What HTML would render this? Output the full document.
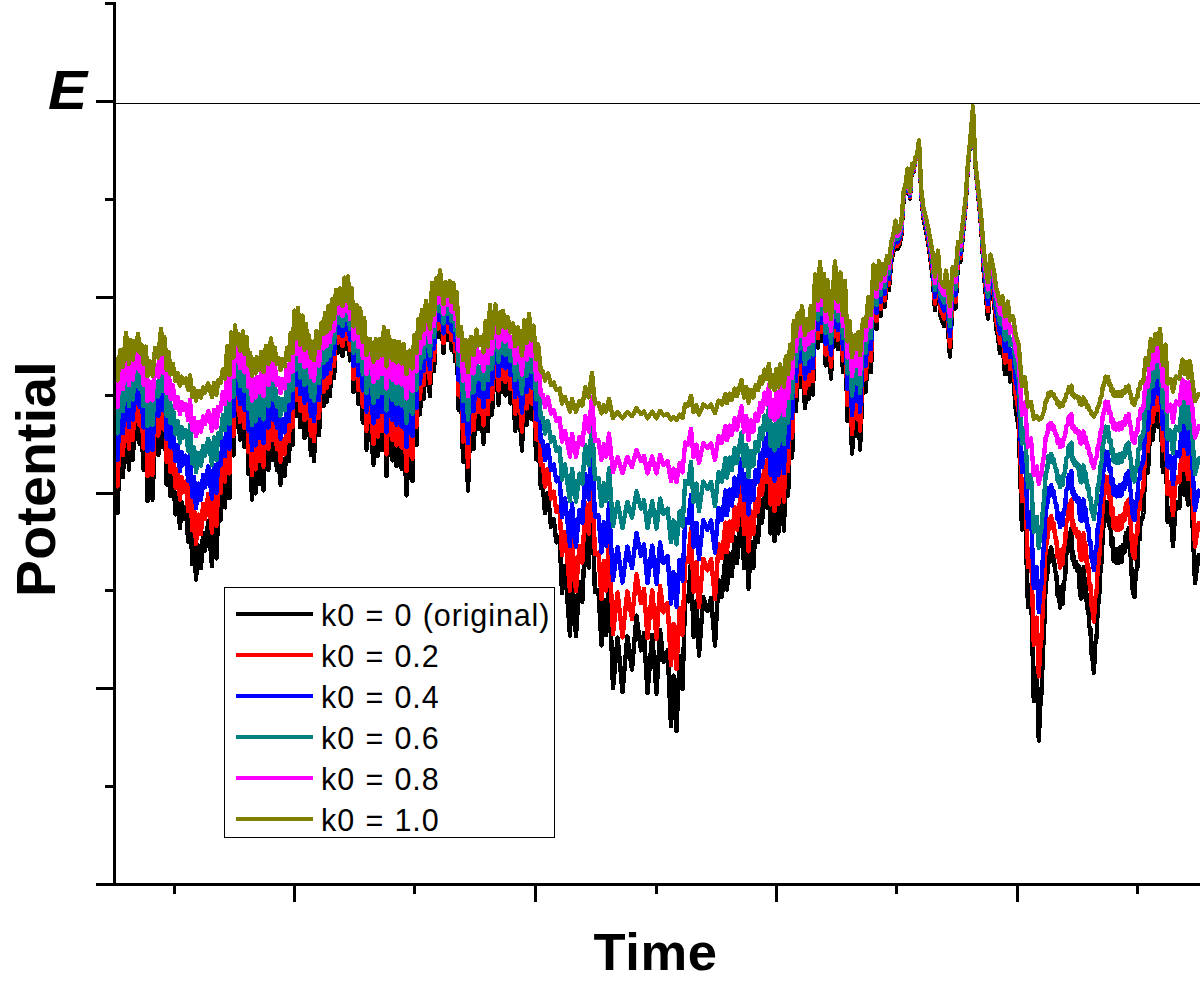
<!DOCTYPE html>
<html><head><meta charset="utf-8"><title>Potential vs Time</title>
<style>
html,body{margin:0;padding:0;background:#fff}
body{width:1200px;height:985px;position:relative;overflow:hidden;font-family:"Liberation Sans",sans-serif;color:#000}
.pl{position:absolute;left:0;top:0}
.k{position:absolute;background:#000}
.lt{position:absolute;left:321px;font-size:30.5px;line-height:40px;white-space:nowrap;letter-spacing:0.9px;word-spacing:1px}
.E{position:absolute;left:47.5px;top:59.5px;font-size:56px;transform:scaleX(1.05);transform-origin:0 0;font-weight:bold;font-style:italic;line-height:60px}
.T{position:absolute;left:593.6px;top:921.5px;font-size:52.5px;letter-spacing:0.55px;font-weight:bold;line-height:60px;white-space:nowrap}
.P{position:absolute;left:36.1px;top:479.3px;font-size:55.5px;letter-spacing:0.17px;font-weight:bold;line-height:60px;white-space:nowrap;transform:translate(-50%,-50%) rotate(-90deg);transform-origin:50% 50%}
</style></head><body>
<svg class="pl" width="1200" height="985" viewBox="0 0 1200 985"><g fill="none" stroke-width="4.4" stroke-linejoin="round" stroke-linecap="butt" shape-rendering="crispEdges">
<path d="M115.0 493.2 L116.2 459.6 L117.5 513.0 L120.2 438.8 L123.0 477.2 L126.0 404.6 L129.0 469.7 L130.5 418.3 L132.9 459.8 L134.5 419.8 L136.4 438.7 L138.0 405.7 L139.7 443.9 L141.5 427.3 L143.6 469.7 L145.8 431.4 L147.5 501.3 L149.9 463.5 L152.5 499.7 L155.1 433.8 L158.3 455.2 L161.0 396.2 L163.0 447.2 L164.6 413.0 L166.7 484.7 L168.8 443.2 L170.5 496.3 L172.9 470.2 L175.5 514.4 L177.5 492.7 L180.0 528.0 L181.7 502.2 L183.7 519.1 L185.7 507.2 L188.2 541.6 L190.0 499.1 L192.2 564.0 L194.1 535.9 L196.0 579.7 L198.3 545.3 L201.0 568.0 L203.1 533.2 L205.0 550.5 L208.2 521.5 L212.0 566.3 L214.0 519.4 L216.4 558.4 L218.3 512.2 L220.5 520.5 L222.9 483.3 L225.1 507.4 L227.3 430.0 L229.5 498.0 L231.2 403.2 L233.4 455.4 L235.0 390.2 L236.7 426.7 L238.3 406.1 L240.0 439.7 L243.0 401.7 L244.5 446.9 L246.6 412.1 L248.5 474.0 L250.1 445.0 L252.0 499.7 L253.8 457.7 L255.5 493.4 L257.0 454.4 L259.3 484.0 L261.1 443.0 L263.5 490.5 L265.9 429.8 L268.4 470.0 L271.0 414.9 L273.0 459.8 L274.7 433.5 L276.9 470.2 L278.6 457.2 L280.5 484.7 L282.5 459.0 L284.7 476.2 L287.2 433.6 L289.0 461.3 L290.7 404.6 L292.7 445.2 L294.4 364.1 L296.1 415.8 L298.0 359.3 L300.2 427.3 L302.5 372.9 L304.5 438.0 L306.0 387.8 L307.5 434.8 L309.0 409.1 L310.9 455.1 L312.5 423.6 L314.0 461.3 L316.4 400.3 L319.0 435.2 L321.4 385.2 L323.5 406.3 L325.0 368.0 L326.6 402.0 L328.4 356.4 L330.0 396.3 L332.0 345.6 L334.1 378.3 L336.0 330.1 L338.2 352.5 L340.1 327.8 L342.5 356.3 L344.6 311.8 L346.1 348.5 L348.0 310.1 L349.9 360.5 L351.8 327.6 L353.5 392.2 L356.5 354.8 L358.3 404.0 L360.2 360.7 L362.8 422.6 L364.2 377.1 L366.5 449.7 L370.0 415.5 L373.5 464.7 L375.8 416.3 L377.7 456.3 L379.7 416.0 L382.0 450.3 L384.0 393.6 L386.5 476.3 L388.1 400.5 L389.4 454.7 L391.0 418.8 L392.6 460.4 L394.4 419.8 L396.5 466.3 L399.1 421.7 L401.7 468.7 L403.8 426.7 L406.5 495.5 L409.4 440.2 L412.5 481.3 L414.2 409.3 L416.5 445.2 L418.4 378.5 L420.1 413.9 L421.9 362.8 L423.8 398.6 L426.0 347.5 L430.0 396.3 L432.1 319.6 L434.1 371.3 L436.2 312.3 L438.2 337.1 L440.0 301.1 L443.5 353.0 L445.5 318.7 L448.0 340.4 L450.0 317.1 L451.5 349.7 L453.4 320.4 L455.0 361.4 L456.8 334.1 L458.5 409.7 L461.1 393.2 L463.1 461.8 L465.6 418.3 L468.0 490.5 L470.8 411.7 L473.6 448.9 L476.5 397.9 L478.8 429.0 L481.1 411.8 L483.5 443.8 L485.5 382.9 L488.0 431.2 L490.0 354.5 L492.0 414.7 L495.5 353.9 L498.5 404.7 L500.1 367.1 L501.5 392.2 L503.0 364.6 L505.4 395.4 L507.9 375.5 L510.4 403.5 L513.2 387.1 L515.2 431.0 L518.0 393.9 L522.0 450.5 L524.3 381.3 L526.7 424.8 L529.0 369.9 L531.5 419.1 L533.5 390.8 L536.2 459.5 L538.2 427.1 L540.8 488.3 L543.0 488.2 L545.0 513.0 L548.0 492.9 L551.0 526.8 L553.7 519.0 L556.4 542.4 L559.6 536.8 L562.0 593.1 L565.0 566.0 L570.0 635.5 L572.0 573.3 L576.0 636.2 L579.4 582.2 L582.3 601.8 L585.3 532.1 L588.8 567.6 L592.0 492.1 L594.9 591.8 L598.4 590.0 L601.5 645.5 L603.8 599.7 L606.2 635.3 L609.0 572.7 L613.0 688.0 L617.6 637.5 L622.5 692.2 L627.3 636.3 L632.0 669.7 L636.5 615.7 L641.0 650.4 L644.0 633.2 L647.5 693.0 L652.2 634.9 L656.5 693.8 L660.1 630.1 L663.5 661.7 L667.6 650.4 L671.0 726.3 L673.5 675.7 L676.5 731.3 L679.6 656.4 L682.5 689.1 L685.2 595.6 L688.2 601.3 L691.0 561.4 L693.6 637.1 L696.5 601.1 L699.0 655.5 L703.3 597.2 L707.5 611.0 L711.1 597.7 L715.0 645.5 L718.6 579.6 L721.9 596.8 L725.5 554.7 L727.0 589.7 L729.4 553.7 L731.8 576.2 L734.7 537.0 L737.0 563.0 L741.5 511.4 L744.1 568.4 L746.2 531.9 L748.5 588.8 L751.0 541.7 L753.3 568.0 L755.5 527.0 L758.0 542.2 L760.3 504.1 L762.1 522.6 L764.6 484.1 L766.6 507.6 L769.0 469.9 L770.6 533.6 L772.6 498.4 L774.5 541.3 L776.6 481.7 L778.3 533.4 L780.0 471.3 L784.0 530.5 L785.8 452.5 L788.1 495.6 L790.1 427.5 L792.2 457.5 L793.8 381.8 L795.9 411.0 L797.8 369.1 L800.0 386.9 L802.0 356.9 L805.0 408.0 L807.2 378.2 L808.9 398.6 L810.8 356.9 L813.0 394.7 L815.1 306.8 L817.9 347.7 L820.0 288.5 L822.0 341.0 L824.0 305.8 L825.7 365.4 L827.5 315.9 L831.0 378.6 L835.0 288.2 L837.8 349.3 L840.5 304.1 L842.9 371.9 L845.0 316.4 L847.4 421.2 L849.6 382.1 L852.0 453.7 L855.0 409.0 L856.8 435.9 L858.6 402.2 L860.0 449.7 L863.0 379.5 L865.7 392.2 L868.4 341.9 L871.0 372.0 L873.5 292.7 L876.4 329.3 L879.0 288.0 L880.5 316.3 L882.7 292.0 L884.7 306.9 L887.0 281.0 L888.9 290.3 L891.2 262.3 L893.4 251.8 L895.5 233.9 L897.4 249.2 L899.4 245.0 L901.4 235.1 L903.7 197.7 L905.6 189.9 L907.5 172.4 L910.0 198.7 L911.9 167.1 L913.6 171.6 L915.4 159.9 L916.9 159.3 L919.0 141.5 L921.2 195.5 L923.5 218.6 L925.9 230.2 L928.3 243.7 L930.7 261.5 L932.7 277.6 L935.0 310.3 L938.0 273.3 L940.3 316.0 L942.1 320.7 L944.2 326.2 L946.0 301.4 L950.0 356.7 L952.6 296.3 L955.5 308.6 L958.0 261.7 L960.4 261.9 L962.8 236.7 L965.8 204.0 L967.9 166.3 L970.3 139.8 L973.0 106.3 L975.2 163.2 L977.5 187.8 L979.7 210.9 L981.4 231.8 L983.7 271.6 L985.6 293.0 L988.0 318.6 L990.5 278.7 L992.6 292.9 L994.1 303.2 L996.3 328.7 L997.8 335.3 L1000.0 353.0 L1002.4 340.3 L1005.0 374.3 L1007.8 349.2 L1010.1 381.5 L1013.0 373.9 L1015.8 409.7 L1018.8 429.0 L1022.0 529.7 L1024.9 503.9 L1028.0 607.4 L1031.0 585.1 L1033.8 701.3 L1036.8 668.0 L1038.8 740.7 L1040.1 707.7 L1041.6 692.0 L1042.7 657.0 L1044.2 627.8 L1045.7 581.8 L1047.1 578.0 L1048.5 551.2 L1049.9 561.9 L1051.2 547.3 L1052.5 557.9 L1053.7 555.7 L1055.1 571.6 L1056.2 573.0 L1057.6 595.9 L1058.8 586.9 L1060.0 607.7 L1061.2 599.6 L1062.6 603.8 L1063.8 582.0 L1065.0 579.6 L1066.3 554.8 L1067.6 552.0 L1068.8 533.0 L1069.9 534.0 L1071.4 528.2 L1072.7 560.1 L1073.8 556.5 L1074.8 567.2 L1076.1 562.0 L1077.4 571.2 L1078.6 565.9 L1080.0 595.3 L1081.4 598.6 L1082.5 594.4 L1083.5 567.3 L1084.5 579.1 L1085.8 581.7 L1087.0 607.9 L1088.2 604.9 L1089.4 627.3 L1090.4 628.2 L1091.5 653.2 L1092.5 658.6 L1093.9 672.8 L1095.2 644.1 L1096.6 637.2 L1097.6 609.7 L1099.1 598.1 L1100.5 569.5 L1101.8 559.8 L1102.9 527.0 L1104.1 526.8 L1105.4 501.7 L1106.9 509.8 L1107.9 502.5 L1109.2 525.9 L1110.3 522.8 L1111.6 545.7 L1112.6 538.3 L1113.7 560.7 L1115.1 549.1 L1116.4 563.2 L1117.6 549.7 L1118.9 562.9 L1120.1 547.3 L1121.6 561.8 L1123.0 545.2 L1124.4 552.5 L1125.9 532.8 L1127.3 543.9 L1128.6 528.2 L1129.6 547.6 L1131.0 559.3 L1132.2 587.5 L1133.4 593.2 L1134.5 597.0 L1135.8 571.1 L1137.3 568.2 L1138.4 538.3 L1139.7 539.3 L1140.7 517.8 L1142.2 519.7 L1143.5 512.5 L1145.7 456.2 L1148.0 472.7 L1150.8 415.9 L1152.8 440.0 L1155.3 406.2 L1157.9 426.7 L1160.0 397.1 L1162.9 472.0 L1165.4 427.7 L1167.6 521.9 L1170.5 508.1 L1173.0 546.2 L1175.9 501.8 L1179.3 508.0 L1182.5 459.6 L1184.1 494.5 L1186.1 465.1 L1187.9 504.6 L1190.0 463.5 L1195.0 583.0 L1198.7 555.2 L1202.0 561.7" stroke="#000000"/>
<path d="M115.0 469.2 L116.2 439.6 L117.5 486.5 L120.2 421.0 L123.0 455.1 L126.0 390.3 L129.0 448.5 L130.5 402.6 L132.9 439.8 L134.5 404.0 L136.4 421.0 L138.0 391.3 L139.7 425.6 L141.5 410.7 L143.6 448.5 L145.8 414.4 L147.5 476.3 L149.9 443.0 L152.5 474.9 L155.1 416.5 L158.3 435.7 L161.0 382.7 L163.0 428.5 L164.6 397.9 L166.7 461.8 L168.8 424.9 L170.5 472.0 L172.9 448.9 L175.5 487.8 L177.5 468.8 L180.0 499.5 L181.7 477.1 L183.7 491.8 L185.7 481.5 L188.2 511.3 L190.0 474.4 L192.2 530.5 L194.1 506.4 L196.0 543.8 L198.3 514.5 L201.0 533.9 L203.1 504.1 L205.0 518.9 L208.2 493.9 L212.0 532.5 L214.0 492.1 L216.4 525.7 L218.3 485.8 L220.5 493.0 L222.9 460.5 L225.1 481.6 L227.3 413.2 L229.5 473.4 L231.2 389.0 L233.4 435.9 L235.0 377.2 L236.7 410.2 L238.3 391.6 L240.0 421.8 L243.0 387.7 L244.5 428.3 L246.6 397.1 L248.5 452.3 L250.1 426.6 L252.0 474.9 L253.8 437.9 L255.5 469.4 L257.0 434.9 L259.3 461.2 L261.1 424.8 L263.5 466.8 L265.9 413.0 L268.4 448.8 L271.0 399.6 L273.0 439.8 L274.7 416.3 L276.9 449.0 L278.6 437.4 L280.5 461.7 L282.5 439.0 L284.7 454.3 L287.2 416.4 L289.0 441.1 L290.7 390.3 L292.7 426.8 L294.4 353.4 L296.1 400.4 L298.0 348.9 L300.2 410.8 L302.5 361.4 L304.5 420.3 L306.0 375.0 L307.5 417.5 L309.0 394.4 L310.9 435.5 L312.5 407.5 L314.0 441.1 L316.4 386.4 L319.0 417.8 L321.4 372.7 L323.5 391.9 L325.0 357.0 L326.6 388.0 L328.4 346.4 L330.0 382.8 L332.0 336.4 L334.1 366.3 L336.0 322.0 L338.2 342.7 L340.1 319.9 L342.5 346.3 L344.6 305.0 L346.1 339.0 L348.0 303.4 L349.9 350.1 L351.8 319.7 L353.5 379.0 L356.5 344.8 L358.3 389.8 L360.2 350.3 L362.8 406.6 L364.2 365.3 L366.5 430.7 L370.0 400.1 L373.5 444.1 L375.8 400.8 L377.7 436.6 L379.7 400.5 L382.0 431.3 L384.0 380.4 L386.5 454.4 L388.1 386.6 L389.4 435.2 L391.0 403.1 L392.6 440.3 L394.4 404.0 L396.5 445.5 L399.1 405.8 L401.7 447.6 L403.8 410.2 L406.5 471.2 L409.4 422.3 L412.5 458.8 L414.2 394.6 L416.5 426.8 L418.4 366.6 L420.1 398.7 L421.9 352.2 L423.8 384.9 L426.0 338.1 L430.0 382.8 L432.1 312.3 L434.1 360.0 L436.2 305.4 L438.2 328.5 L440.0 294.9 L443.5 343.2 L445.5 311.4 L448.0 331.5 L450.0 309.9 L451.5 340.1 L453.4 313.0 L455.0 350.9 L456.8 325.7 L458.5 394.9 L461.1 380.0 L463.1 441.5 L465.6 402.6 L468.0 466.8 L470.8 396.7 L473.6 430.1 L476.5 384.2 L478.8 412.3 L481.1 396.8 L483.5 425.5 L485.5 370.6 L488.0 414.3 L490.0 344.6 L492.0 399.4 L495.5 344.0 L498.5 390.4 L500.1 356.2 L501.5 379.1 L503.0 353.9 L505.4 381.9 L507.9 363.8 L510.4 389.3 L513.2 374.4 L515.2 414.0 L518.0 380.5 L522.0 431.5 L524.3 369.1 L526.7 408.5 L529.0 358.7 L531.5 403.4 L533.5 377.8 L536.2 439.5 L538.2 410.6 L540.8 464.9 L543.0 464.8 L545.0 486.5 L548.0 469.0 L551.0 498.5 L553.7 491.7 L556.4 512.0 L559.6 507.2 L562.0 555.3 L565.0 532.2 L570.0 590.8 L572.0 538.4 L576.0 591.3 L579.4 546.0 L582.3 562.6 L585.3 503.1 L588.8 533.6 L592.0 468.2 L594.9 554.2 L598.4 552.6 L601.5 599.1 L603.8 560.8 L606.2 590.6 L609.0 538.0 L613.0 634.0 L617.6 592.4 L622.5 637.4 L627.3 591.4 L632.0 619.0 L636.5 574.3 L641.0 603.1 L644.0 588.8 L647.5 638.1 L652.2 590.3 L656.5 638.7 L660.1 586.2 L663.5 612.4 L667.6 603.2 L671.0 665.0 L673.5 623.9 L676.5 669.0 L679.6 608.1 L682.5 634.9 L685.2 557.3 L688.2 562.1 L691.0 528.3 L693.6 592.1 L696.5 561.9 L699.0 607.3 L703.3 558.7 L707.5 570.3 L711.1 559.1 L715.0 599.1 L718.6 543.8 L721.9 558.3 L725.5 522.6 L727.0 552.3 L729.4 521.7 L731.8 540.9 L734.7 507.3 L737.0 529.6 L741.5 485.1 L744.1 534.3 L746.2 502.9 L748.5 551.6 L751.0 511.4 L753.3 533.9 L755.5 498.7 L758.0 511.8 L760.3 478.7 L762.1 494.8 L764.6 461.2 L766.6 481.8 L769.0 448.7 L770.6 504.4 L772.6 473.7 L774.5 511.0 L776.6 459.1 L778.3 504.2 L780.0 450.0 L784.0 501.7 L785.8 433.3 L788.1 471.3 L790.1 410.9 L792.2 437.7 L793.8 369.6 L795.9 396.1 L797.8 357.9 L800.0 374.2 L802.0 346.7 L805.0 393.4 L807.2 366.3 L808.9 384.9 L810.8 346.8 L813.0 381.3 L815.1 300.3 L817.9 338.3 L820.0 283.2 L822.0 332.1 L824.0 299.4 L825.7 354.6 L827.5 308.8 L831.0 366.7 L835.0 282.8 L837.8 339.8 L840.5 297.8 L842.9 360.5 L845.0 309.2 L847.4 405.2 L849.6 369.9 L852.0 434.3 L855.0 394.2 L856.8 418.5 L858.6 388.1 L860.0 430.7 L863.0 367.4 L865.7 379.0 L868.4 333.0 L871.0 360.7 L873.5 287.0 L876.4 321.3 L879.0 282.7 L880.5 309.2 L882.7 286.4 L884.7 300.4 L887.0 276.1 L888.9 284.8 L891.2 258.3 L893.4 248.3 L895.5 231.2 L897.4 245.8 L899.4 241.9 L901.4 232.4 L903.7 196.3 L905.6 188.7 L907.5 171.6 L910.0 197.2 L911.9 166.5 L913.6 170.9 L915.4 159.4 L916.9 158.8 L919.0 141.3 L921.2 194.2 L923.5 216.6 L925.9 227.7 L928.3 240.6 L930.7 257.6 L932.7 272.8 L935.0 303.6 L938.0 268.7 L940.3 308.9 L942.1 313.3 L944.2 318.4 L946.0 295.2 L950.0 346.6 L952.6 290.5 L955.5 302.0 L958.0 257.8 L960.4 258.0 L962.8 233.9 L965.8 202.5 L967.9 165.7 L970.3 139.6 L973.0 106.3 L975.2 162.6 L977.5 186.7 L979.7 209.1 L981.4 229.2 L983.7 267.1 L985.6 287.3 L988.0 311.3 L990.5 273.8 L992.6 287.2 L994.1 296.9 L996.3 320.7 L997.8 326.8 L1000.0 343.2 L1002.4 331.5 L1005.0 362.7 L1007.8 339.6 L1010.1 369.4 L1013.0 362.4 L1015.8 394.9 L1018.8 412.2 L1022.0 501.0 L1024.9 478.5 L1028.0 567.2 L1031.0 548.4 L1033.8 644.8 L1036.8 617.6 L1038.8 676.5 L1040.1 650.0 L1041.6 637.3 L1042.7 608.6 L1044.2 584.3 L1045.7 545.6 L1047.1 542.4 L1048.5 519.5 L1049.9 528.7 L1051.2 516.2 L1052.5 525.3 L1053.7 523.4 L1055.1 537.0 L1056.2 538.2 L1057.6 557.6 L1058.8 549.9 L1060.0 567.5 L1061.2 560.7 L1062.6 564.3 L1063.8 545.8 L1065.0 543.8 L1066.3 522.6 L1067.6 520.2 L1068.8 503.8 L1069.9 504.8 L1071.4 499.7 L1072.7 527.1 L1073.8 524.1 L1074.8 533.2 L1076.1 528.8 L1077.4 536.7 L1078.6 532.1 L1080.0 557.1 L1081.4 559.9 L1082.5 556.3 L1083.5 533.3 L1084.5 543.4 L1085.8 545.6 L1087.0 567.7 L1088.2 565.1 L1089.4 583.9 L1090.4 584.7 L1091.5 605.5 L1092.5 609.9 L1093.9 621.5 L1095.2 597.9 L1096.6 592.2 L1097.6 569.2 L1099.1 559.5 L1100.5 535.2 L1101.8 526.9 L1102.9 498.7 L1104.1 498.5 L1105.4 476.7 L1106.9 483.7 L1107.9 477.3 L1109.2 497.7 L1110.3 495.0 L1111.6 514.8 L1112.6 508.4 L1113.7 527.7 L1115.1 517.7 L1116.4 529.8 L1117.6 518.2 L1118.9 529.6 L1120.1 516.2 L1121.6 528.6 L1123.0 514.4 L1124.4 520.6 L1125.9 503.6 L1127.3 513.3 L1128.6 499.7 L1129.6 516.4 L1131.0 526.5 L1132.2 550.5 L1133.4 555.3 L1134.5 558.5 L1135.8 536.5 L1137.3 534.0 L1138.4 508.4 L1139.7 509.3 L1140.7 490.7 L1142.2 492.3 L1143.5 486.1 L1145.7 436.6 L1148.0 451.2 L1150.8 400.5 L1152.8 422.1 L1155.3 391.7 L1157.9 410.2 L1160.0 383.5 L1162.9 450.5 L1165.4 411.1 L1167.6 494.3 L1170.5 482.3 L1173.0 515.2 L1175.9 476.7 L1179.3 482.2 L1182.5 439.6 L1184.1 470.4 L1186.1 444.5 L1187.9 479.2 L1190.0 443.0 L1195.0 546.7 L1198.7 522.9 L1202.0 528.5" stroke="#ff0000"/>
<path d="M115.0 445.2 L116.2 419.5 L117.5 460.0 L120.2 403.3 L123.0 433.1 L126.0 376.0 L129.0 427.3 L130.5 387.0 L132.9 419.7 L134.5 388.2 L136.4 403.2 L138.0 376.9 L139.7 407.3 L141.5 394.2 L143.6 427.4 L145.8 397.4 L147.5 451.3 L149.9 422.5 L152.5 450.1 L155.1 399.3 L158.3 416.2 L161.0 369.2 L163.0 409.9 L164.6 382.8 L166.7 438.8 L168.8 406.7 L170.5 447.6 L172.9 427.7 L175.5 461.1 L177.5 444.9 L180.0 471.1 L181.7 452.0 L183.7 464.5 L185.7 455.7 L188.2 480.9 L190.0 449.7 L192.2 497.0 L194.1 476.9 L196.0 508.0 L198.3 483.6 L201.0 499.8 L203.1 474.9 L205.0 487.4 L208.2 466.3 L212.0 498.6 L214.0 464.7 L216.4 493.0 L218.3 459.4 L220.5 465.6 L222.9 437.8 L225.1 455.9 L227.3 396.4 L229.5 448.8 L231.2 374.8 L233.4 416.3 L235.0 364.2 L236.7 393.7 L238.3 377.2 L240.0 404.0 L243.0 373.7 L244.5 409.7 L246.6 382.0 L248.5 430.7 L250.1 408.1 L252.0 450.1 L253.8 418.1 L255.5 445.4 L257.0 415.5 L259.3 438.3 L261.1 406.6 L263.5 443.2 L265.9 396.2 L268.4 427.6 L271.0 384.3 L273.0 419.7 L274.7 399.1 L276.9 427.7 L278.6 417.7 L280.5 438.8 L282.5 419.1 L284.7 432.3 L287.2 399.2 L289.0 420.9 L290.7 376.0 L292.7 408.3 L294.4 342.6 L296.1 385.0 L298.0 338.6 L300.2 394.2 L302.5 350.0 L304.5 402.7 L306.0 362.3 L307.5 400.1 L309.0 379.6 L310.9 416.0 L312.5 391.3 L314.0 420.9 L316.4 372.5 L319.0 400.4 L321.4 360.2 L323.5 377.4 L325.0 346.0 L326.6 373.9 L328.4 336.3 L330.0 369.3 L332.0 327.1 L334.1 354.4 L336.0 313.9 L338.2 332.9 L340.1 312.0 L342.5 336.2 L344.6 298.1 L346.1 329.5 L348.0 296.7 L349.9 339.7 L351.8 311.8 L353.5 365.9 L356.5 334.9 L358.3 375.5 L360.2 339.8 L362.8 390.5 L364.2 353.5 L366.5 411.8 L370.0 384.8 L373.5 423.5 L375.8 385.4 L377.7 417.0 L379.7 385.1 L382.0 412.3 L384.0 367.1 L386.5 432.4 L388.1 372.6 L389.4 415.7 L391.0 387.4 L392.6 420.2 L394.4 388.2 L396.5 424.8 L399.1 389.8 L401.7 426.6 L403.8 393.7 L406.5 447.0 L409.4 404.4 L412.5 436.2 L414.2 379.8 L416.5 408.3 L418.4 354.6 L420.1 383.5 L421.9 341.6 L423.8 371.1 L426.0 328.7 L430.0 369.3 L432.1 304.9 L434.1 348.6 L436.2 298.6 L438.2 319.9 L440.0 288.8 L443.5 333.4 L445.5 304.1 L448.0 322.7 L450.0 302.7 L451.5 330.6 L453.4 305.6 L455.0 340.4 L456.8 317.3 L458.5 380.1 L461.1 366.7 L463.1 421.2 L465.6 387.0 L468.0 443.2 L470.8 381.7 L473.6 411.2 L476.5 370.5 L478.8 395.6 L481.1 381.8 L483.5 407.3 L485.5 358.3 L488.0 397.3 L490.0 334.7 L492.0 384.1 L495.5 334.1 L498.5 376.0 L500.1 345.2 L501.5 365.9 L503.0 343.1 L505.4 368.5 L507.9 352.2 L510.4 375.1 L513.2 361.7 L515.2 397.1 L518.0 367.2 L522.0 412.5 L524.3 356.9 L526.7 392.2 L529.0 347.5 L531.5 387.6 L533.5 364.8 L536.2 419.5 L538.2 394.1 L540.8 441.5 L543.0 441.5 L545.0 460.0 L548.0 445.0 L551.0 470.2 L553.7 464.5 L556.4 481.5 L559.6 477.5 L562.0 517.4 L565.0 498.4 L570.0 546.0 L572.0 503.5 L576.0 546.5 L579.4 509.8 L582.3 523.3 L585.3 474.0 L588.8 499.5 L592.0 444.4 L594.9 516.5 L598.4 515.2 L601.5 552.6 L603.8 521.9 L606.2 545.9 L609.0 503.2 L613.0 580.0 L617.6 547.3 L622.5 582.6 L627.3 546.6 L632.0 568.3 L636.5 532.8 L641.0 555.8 L644.0 544.5 L647.5 583.1 L652.2 545.6 L656.5 583.7 L660.1 542.4 L663.5 563.2 L667.6 555.9 L671.0 603.7 L673.5 572.2 L676.5 606.7 L679.6 559.8 L682.5 580.7 L685.2 519.0 L688.2 523.0 L691.0 495.1 L693.6 547.1 L696.5 522.8 L699.0 559.2 L703.3 520.2 L707.5 529.6 L711.1 520.5 L715.0 552.6 L718.6 508.0 L721.9 519.9 L725.5 490.4 L727.0 515.0 L729.4 489.7 L731.8 505.6 L734.7 477.7 L737.0 496.3 L741.5 458.9 L744.1 500.1 L746.2 473.9 L748.5 514.4 L751.0 481.0 L753.3 499.8 L755.5 470.3 L758.0 481.4 L760.3 453.4 L762.1 467.1 L764.6 438.3 L766.6 456.0 L769.0 427.5 L770.6 475.1 L772.6 449.1 L774.5 480.8 L776.6 436.5 L778.3 475.0 L780.0 428.6 L784.0 472.9 L785.8 414.1 L788.1 447.0 L790.1 394.4 L792.2 417.9 L793.8 357.3 L795.9 381.2 L797.8 346.8 L800.0 361.5 L802.0 336.6 L805.0 378.7 L807.2 354.4 L808.9 371.2 L810.8 336.6 L813.0 367.9 L815.1 293.8 L817.9 328.9 L820.0 277.8 L822.0 323.2 L824.0 292.9 L825.7 343.8 L827.5 301.7 L831.0 354.7 L835.0 277.5 L837.8 330.3 L840.5 291.4 L842.9 349.1 L845.0 302.1 L847.4 389.3 L849.6 357.6 L852.0 414.9 L855.0 379.5 L856.8 401.0 L858.6 374.0 L860.0 411.8 L863.0 355.4 L865.7 365.9 L868.4 324.0 L871.0 349.3 L873.5 281.4 L876.4 313.2 L879.0 277.3 L880.5 302.1 L882.7 280.8 L884.7 293.9 L887.0 271.1 L888.9 279.3 L891.2 254.3 L893.4 244.9 L895.5 228.6 L897.4 242.5 L899.4 238.7 L901.4 229.7 L903.7 194.9 L905.6 187.5 L907.5 170.9 L910.0 195.8 L911.9 165.8 L913.6 170.1 L915.4 158.9 L916.9 158.3 L919.0 141.1 L921.2 192.8 L923.5 214.5 L925.9 225.2 L928.3 237.5 L930.7 253.6 L932.7 268.0 L935.0 296.8 L938.0 264.2 L940.3 301.8 L942.1 305.9 L944.2 310.6 L946.0 289.1 L950.0 336.4 L952.6 284.6 L955.5 295.3 L958.0 253.8 L960.4 254.0 L962.8 231.1 L965.8 200.9 L967.9 165.1 L970.3 139.4 L973.0 106.3 L975.2 162.1 L977.5 185.6 L979.7 207.2 L981.4 226.6 L983.7 262.7 L985.6 281.7 L988.0 304.0 L990.5 269.0 L992.6 281.6 L994.1 290.6 L996.3 312.7 L997.8 318.3 L1000.0 333.4 L1002.4 322.6 L1005.0 351.1 L1007.8 330.1 L1010.1 357.2 L1013.0 350.9 L1015.8 380.1 L1018.8 395.5 L1022.0 472.3 L1024.9 453.2 L1028.0 527.1 L1031.0 511.8 L1033.8 588.3 L1036.8 567.2 L1038.8 612.3 L1040.1 592.3 L1041.6 582.5 L1042.7 560.2 L1044.2 540.9 L1045.7 509.5 L1047.1 506.8 L1048.5 487.9 L1049.9 495.5 L1051.2 485.1 L1052.5 492.6 L1053.7 491.1 L1055.1 502.4 L1056.2 503.3 L1057.6 519.3 L1058.8 513.0 L1060.0 527.4 L1061.2 521.8 L1062.6 524.7 L1063.8 509.7 L1065.0 507.9 L1066.3 490.5 L1067.6 488.5 L1068.8 474.7 L1069.9 475.5 L1071.4 471.2 L1072.7 494.2 L1073.8 491.7 L1074.8 499.2 L1076.1 495.5 L1077.4 502.1 L1078.6 498.3 L1080.0 518.9 L1081.4 521.1 L1082.5 518.2 L1083.5 499.4 L1084.5 507.6 L1085.8 509.4 L1087.0 527.5 L1088.2 525.4 L1089.4 540.6 L1090.4 541.2 L1091.5 557.7 L1092.5 561.2 L1093.9 570.3 L1095.2 551.7 L1096.6 547.2 L1097.6 528.7 L1099.1 520.8 L1100.5 500.9 L1101.8 494.0 L1102.9 470.4 L1104.1 470.2 L1105.4 451.6 L1106.9 457.7 L1107.9 452.2 L1109.2 469.6 L1110.3 467.3 L1111.6 483.9 L1112.6 478.6 L1113.7 494.6 L1115.1 486.3 L1116.4 496.4 L1117.6 486.8 L1118.9 496.2 L1120.1 485.1 L1121.6 495.4 L1123.0 483.6 L1124.4 488.8 L1125.9 474.5 L1127.3 482.6 L1128.6 471.2 L1129.6 485.3 L1131.0 493.6 L1132.2 513.5 L1133.4 517.4 L1134.5 520.0 L1135.8 502.0 L1137.3 499.9 L1138.4 478.6 L1139.7 479.3 L1140.7 463.6 L1142.2 464.9 L1143.5 459.7 L1145.7 416.9 L1148.0 429.7 L1150.8 385.1 L1152.8 404.3 L1155.3 377.2 L1157.9 393.7 L1160.0 369.9 L1162.9 429.1 L1165.4 394.5 L1167.6 466.6 L1170.5 456.4 L1173.0 484.2 L1175.9 451.7 L1179.3 456.3 L1182.5 419.6 L1184.1 446.2 L1186.1 423.8 L1187.9 453.8 L1190.0 422.6 L1195.0 510.3 L1198.7 490.7 L1202.0 495.3" stroke="#0000ff"/>
<path d="M115.0 421.2 L116.2 399.5 L117.5 433.5 L120.2 385.5 L123.0 411.0 L126.0 361.7 L129.0 406.1 L130.5 371.4 L132.9 399.7 L134.5 372.4 L136.4 385.5 L138.0 362.5 L139.7 389.0 L141.5 377.6 L143.6 406.2 L145.8 380.5 L147.5 426.3 L149.9 402.1 L152.5 425.3 L155.1 382.1 L158.3 396.6 L161.0 355.7 L163.0 391.2 L164.6 367.7 L166.7 415.9 L168.8 388.5 L170.5 423.2 L172.9 406.5 L175.5 434.4 L177.5 420.9 L180.0 442.6 L181.7 426.9 L183.7 437.3 L185.7 430.0 L188.2 450.6 L190.0 425.0 L192.2 463.5 L194.1 447.3 L196.0 472.2 L198.3 452.8 L201.0 465.7 L203.1 445.7 L205.0 455.8 L208.2 438.7 L212.0 464.8 L214.0 437.4 L216.4 460.3 L218.3 433.1 L220.5 438.1 L222.9 415.0 L225.1 430.1 L227.3 379.5 L229.5 424.3 L231.2 360.6 L233.4 396.7 L235.0 351.3 L236.7 377.2 L238.3 362.7 L240.0 386.1 L243.0 359.6 L244.5 391.1 L246.6 367.0 L248.5 409.0 L250.1 389.7 L252.0 425.3 L253.8 398.3 L255.5 421.4 L257.0 396.0 L259.3 415.4 L261.1 388.4 L263.5 419.5 L265.9 379.4 L268.4 406.4 L271.0 369.0 L273.0 399.7 L274.7 382.0 L276.9 406.5 L278.6 397.9 L280.5 415.8 L282.5 399.1 L284.7 410.4 L287.2 382.0 L289.0 400.7 L290.7 361.7 L292.7 389.9 L294.4 331.9 L296.1 369.6 L298.0 328.3 L300.2 377.7 L302.5 338.5 L304.5 385.0 L306.0 349.5 L307.5 382.8 L309.0 364.9 L310.9 396.5 L312.5 375.1 L314.0 400.7 L316.4 358.6 L319.0 383.1 L321.4 347.7 L323.5 362.9 L325.0 334.9 L326.6 359.8 L328.4 326.2 L330.0 355.7 L332.0 317.9 L334.1 342.5 L336.0 305.8 L338.2 323.2 L340.1 304.0 L342.5 326.1 L344.6 291.3 L346.1 320.1 L348.0 290.0 L349.9 329.3 L351.8 303.9 L353.5 352.7 L356.5 324.9 L358.3 361.3 L360.2 329.4 L362.8 374.4 L364.2 341.7 L366.5 392.9 L370.0 369.4 L373.5 402.9 L375.8 370.0 L377.7 397.3 L379.7 369.7 L382.0 393.3 L384.0 353.8 L386.5 410.5 L388.1 358.7 L389.4 396.3 L391.0 371.7 L392.6 400.1 L394.4 372.4 L396.5 404.0 L399.1 373.8 L401.7 405.5 L403.8 377.2 L406.5 422.7 L409.4 386.5 L412.5 413.7 L414.2 365.0 L416.5 389.9 L418.4 342.7 L420.1 368.3 L421.9 331.0 L423.8 357.4 L426.0 319.3 L430.0 355.7 L432.1 297.5 L434.1 337.3 L436.2 291.7 L438.2 311.3 L440.0 282.6 L443.5 323.5 L445.5 296.8 L448.0 313.8 L450.0 295.6 L451.5 321.0 L453.4 298.2 L455.0 329.9 L456.8 309.0 L458.5 365.3 L461.1 353.5 L463.1 401.0 L465.6 371.4 L468.0 419.5 L470.8 366.7 L473.6 392.4 L476.5 356.9 L478.8 378.8 L481.1 366.8 L483.5 389.0 L485.5 346.0 L488.0 380.4 L490.0 324.7 L492.0 368.8 L495.5 324.2 L498.5 361.7 L500.1 334.2 L501.5 352.8 L503.0 332.3 L505.4 355.0 L507.9 340.5 L510.4 360.9 L513.2 349.0 L515.2 380.2 L518.0 353.9 L522.0 393.5 L524.3 344.8 L526.7 375.9 L529.0 336.3 L531.5 371.9 L533.5 351.8 L536.2 399.5 L538.2 377.5 L540.8 418.1 L543.0 418.1 L545.0 433.5 L548.0 421.1 L551.0 441.9 L553.7 437.2 L556.4 451.1 L559.6 447.8 L562.0 479.5 L565.0 464.6 L570.0 501.3 L572.0 468.7 L576.0 501.6 L579.4 473.6 L582.3 484.1 L585.3 445.0 L588.8 465.5 L592.0 420.5 L594.9 478.8 L598.4 477.8 L601.5 506.2 L603.8 483.0 L606.2 501.2 L609.0 468.4 L613.0 526.0 L617.6 502.3 L622.5 527.8 L627.3 501.7 L632.0 517.7 L636.5 491.3 L641.0 508.6 L644.0 500.1 L647.5 528.2 L652.2 501.0 L656.5 528.6 L660.1 498.6 L663.5 513.9 L667.6 508.6 L671.0 542.3 L673.5 520.4 L676.5 544.4 L679.6 511.4 L682.5 526.5 L685.2 480.8 L688.2 483.8 L691.0 462.0 L693.6 502.1 L696.5 483.7 L699.0 511.0 L703.3 481.6 L707.5 488.9 L711.1 481.9 L715.0 506.2 L718.6 472.1 L721.9 481.4 L725.5 458.2 L727.0 477.6 L729.4 457.6 L731.8 470.3 L734.7 448.0 L737.0 462.9 L741.5 432.6 L744.1 465.9 L746.2 444.9 L748.5 477.2 L751.0 450.7 L753.3 465.7 L755.5 442.0 L758.0 451.0 L760.3 428.0 L762.1 439.3 L764.6 415.5 L766.6 430.2 L769.0 406.3 L770.6 445.9 L772.6 424.5 L774.5 450.5 L776.6 413.9 L778.3 445.8 L780.0 407.2 L784.0 444.1 L785.8 394.8 L788.1 422.7 L790.1 377.8 L792.2 398.1 L793.8 345.1 L795.9 366.2 L797.8 335.7 L800.0 348.9 L802.0 326.5 L805.0 364.1 L807.2 342.5 L808.9 357.4 L810.8 326.5 L813.0 354.5 L815.1 287.3 L817.9 319.5 L820.0 272.4 L822.0 314.3 L824.0 286.5 L825.7 333.0 L827.5 294.6 L831.0 342.8 L835.0 272.1 L837.8 320.7 L840.5 285.1 L842.9 337.8 L845.0 294.9 L847.4 373.4 L849.6 345.4 L852.0 395.6 L855.0 364.8 L856.8 383.6 L858.6 360.0 L860.0 392.9 L863.0 343.4 L865.7 352.7 L868.4 315.0 L871.0 337.9 L873.5 275.8 L876.4 305.2 L879.0 271.9 L880.5 294.9 L882.7 275.2 L884.7 287.4 L887.0 266.2 L888.9 273.8 L891.2 250.4 L893.4 241.4 L895.5 225.9 L897.4 239.1 L899.4 235.6 L901.4 226.9 L903.7 193.5 L905.6 186.4 L907.5 170.1 L910.0 194.4 L911.9 165.2 L913.6 169.4 L915.4 158.4 L916.9 157.9 L919.0 140.8 L921.2 191.5 L923.5 212.4 L925.9 222.6 L928.3 234.4 L930.7 249.7 L932.7 263.3 L935.0 290.1 L938.0 259.6 L940.3 294.7 L942.1 298.4 L944.2 302.7 L946.0 282.9 L950.0 326.3 L952.6 278.8 L955.5 288.7 L958.0 249.9 L960.4 250.1 L962.8 228.4 L965.8 199.3 L967.9 164.5 L970.3 139.2 L973.0 106.3 L975.2 161.5 L977.5 184.5 L979.7 205.4 L981.4 224.0 L983.7 258.2 L985.6 276.0 L988.0 296.7 L990.5 264.2 L992.6 275.9 L994.1 284.4 L996.3 304.7 L997.8 309.9 L1000.0 323.5 L1002.4 313.8 L1005.0 339.6 L1007.8 320.6 L1010.1 345.0 L1013.0 339.3 L1015.8 365.3 L1018.8 378.8 L1022.0 443.6 L1024.9 427.9 L1028.0 487.0 L1031.0 475.1 L1033.8 531.8 L1036.8 516.9 L1038.8 548.1 L1040.1 534.6 L1041.6 527.8 L1042.7 511.7 L1044.2 497.4 L1045.7 473.3 L1047.1 471.2 L1048.5 456.2 L1049.9 462.3 L1051.2 453.9 L1052.5 460.0 L1053.7 458.8 L1055.1 467.8 L1056.2 468.5 L1057.6 480.9 L1058.8 476.1 L1060.0 487.2 L1061.2 482.9 L1062.6 485.1 L1063.8 473.5 L1065.0 472.1 L1066.3 458.3 L1067.6 456.7 L1068.8 445.5 L1069.9 446.2 L1071.4 442.7 L1072.7 461.3 L1073.8 459.3 L1074.8 465.3 L1076.1 462.3 L1077.4 467.5 L1078.6 464.5 L1080.0 480.6 L1081.4 482.4 L1082.5 480.1 L1083.5 465.4 L1084.5 471.9 L1085.8 473.3 L1087.0 487.3 L1088.2 485.7 L1089.4 497.2 L1090.4 497.7 L1091.5 509.9 L1092.5 512.5 L1093.9 519.1 L1095.2 505.5 L1096.6 502.1 L1097.6 488.2 L1099.1 482.1 L1100.5 466.6 L1101.8 461.1 L1102.9 442.0 L1104.1 441.9 L1105.4 426.6 L1106.9 431.6 L1107.9 427.0 L1109.2 441.4 L1110.3 439.5 L1111.6 453.0 L1112.6 448.7 L1113.7 461.6 L1115.1 455.0 L1116.4 463.0 L1117.6 455.3 L1118.9 462.9 L1120.1 454.0 L1121.6 462.2 L1123.0 452.7 L1124.4 456.9 L1125.9 445.4 L1127.3 452.0 L1128.6 442.7 L1129.6 454.1 L1131.0 460.8 L1132.2 476.4 L1133.4 479.5 L1134.5 481.5 L1135.8 467.4 L1137.3 465.8 L1138.4 448.7 L1139.7 449.3 L1140.7 436.5 L1142.2 437.6 L1143.5 433.2 L1145.7 397.3 L1148.0 408.1 L1150.8 369.7 L1152.8 386.4 L1155.3 362.8 L1157.9 377.2 L1160.0 356.3 L1162.9 407.6 L1165.4 377.9 L1167.6 439.0 L1170.5 430.5 L1173.0 453.3 L1175.9 426.6 L1179.3 430.5 L1182.5 399.6 L1184.1 422.1 L1186.1 403.2 L1187.9 428.4 L1190.0 402.1 L1195.0 474.0 L1198.7 458.5 L1202.0 462.2" stroke="#008080"/>
<path d="M115.0 397.2 L116.2 379.5 L117.5 407.0 L120.2 367.8 L123.0 389.0 L126.0 347.4 L129.0 385.0 L130.5 355.7 L132.9 379.6 L134.5 356.6 L136.4 367.7 L138.0 348.0 L139.7 370.7 L141.5 361.1 L143.6 385.0 L145.8 363.5 L147.5 401.3 L149.9 381.6 L152.5 400.5 L155.1 364.9 L158.3 377.1 L161.0 342.1 L163.0 372.6 L164.6 352.5 L166.7 392.9 L168.8 370.3 L170.5 398.8 L172.9 385.2 L175.5 407.7 L177.5 397.0 L180.0 414.1 L181.7 401.8 L183.7 410.0 L185.7 404.2 L188.2 420.3 L190.0 400.2 L192.2 430.0 L194.1 417.8 L196.0 436.4 L198.3 422.0 L201.0 431.6 L203.1 416.5 L205.0 424.2 L208.2 411.1 L212.0 430.9 L214.0 410.1 L216.4 427.6 L218.3 406.7 L220.5 410.6 L222.9 392.2 L225.1 404.3 L227.3 362.7 L229.5 399.7 L231.2 346.5 L233.4 377.2 L235.0 338.3 L236.7 360.7 L238.3 348.3 L240.0 368.3 L243.0 345.6 L244.5 372.4 L246.6 352.0 L248.5 387.3 L250.1 371.3 L252.0 400.5 L253.8 378.5 L255.5 397.4 L257.0 376.6 L259.3 392.5 L261.1 370.2 L263.5 395.9 L265.9 362.5 L268.4 385.2 L271.0 353.7 L273.0 379.6 L274.7 364.8 L276.9 385.3 L278.6 378.2 L280.5 392.9 L282.5 379.2 L284.7 388.5 L287.2 364.8 L289.0 380.5 L290.7 347.4 L292.7 371.5 L294.4 321.2 L296.1 354.2 L298.0 318.0 L300.2 361.1 L302.5 327.1 L304.5 367.3 L306.0 336.8 L307.5 365.5 L309.0 350.1 L310.9 377.0 L312.5 358.9 L314.0 380.5 L316.4 344.7 L319.0 365.7 L321.4 335.1 L323.5 348.4 L325.0 323.9 L326.6 345.8 L328.4 316.1 L330.0 342.2 L332.0 308.6 L334.1 330.6 L336.0 297.7 L338.2 313.4 L340.1 296.1 L342.5 316.0 L344.6 284.5 L346.1 310.6 L348.0 283.2 L349.9 318.8 L351.8 295.9 L353.5 339.6 L356.5 315.0 L358.3 347.0 L360.2 319.0 L362.8 358.3 L364.2 329.9 L366.5 374.0 L370.0 354.0 L373.5 382.3 L375.8 354.5 L377.7 377.7 L379.7 354.3 L382.0 374.4 L384.0 340.5 L386.5 388.5 L388.1 344.8 L389.4 376.8 L391.0 356.0 L392.6 380.0 L394.4 356.6 L396.5 383.2 L399.1 357.8 L401.7 384.5 L403.8 360.8 L406.5 398.4 L409.4 368.6 L412.5 391.1 L414.2 350.3 L416.5 371.5 L418.4 330.8 L420.1 353.1 L421.9 320.4 L423.8 343.6 L426.0 309.9 L430.0 342.2 L432.1 290.2 L434.1 326.0 L436.2 284.8 L438.2 302.7 L440.0 276.5 L443.5 313.7 L445.5 289.5 L448.0 305.0 L450.0 288.4 L451.5 311.4 L453.4 290.8 L455.0 319.4 L456.8 300.6 L458.5 350.5 L461.1 340.2 L463.1 380.7 L465.6 355.7 L468.0 395.9 L470.8 351.7 L473.6 373.6 L476.5 343.2 L478.8 362.1 L481.1 351.8 L483.5 370.7 L485.5 333.7 L488.0 363.4 L490.0 314.8 L492.0 353.5 L495.5 314.3 L498.5 347.4 L500.1 323.3 L501.5 339.6 L503.0 321.6 L505.4 341.6 L507.9 328.8 L510.4 346.7 L513.2 336.3 L515.2 363.2 L518.0 340.6 L522.0 374.5 L524.3 332.6 L526.7 359.6 L529.0 325.1 L531.5 356.2 L533.5 338.7 L536.2 379.5 L538.2 361.0 L540.8 394.7 L543.0 394.7 L545.0 407.0 L548.0 397.1 L551.0 413.6 L553.7 409.9 L556.4 420.7 L559.6 418.2 L562.0 441.6 L565.0 430.8 L570.0 456.6 L572.0 433.8 L576.0 456.8 L579.4 437.3 L582.3 444.8 L585.3 416.0 L588.8 431.5 L592.0 396.7 L594.9 441.1 L598.4 440.4 L601.5 459.8 L603.8 444.1 L606.2 456.5 L609.0 433.6 L613.0 472.0 L617.6 457.2 L622.5 473.0 L627.3 456.8 L632.0 467.0 L636.5 449.9 L641.0 461.3 L644.0 455.8 L647.5 473.3 L652.2 456.4 L656.5 473.5 L660.1 454.8 L663.5 464.7 L667.6 461.3 L671.0 481.0 L673.5 468.7 L676.5 482.1 L679.6 463.1 L682.5 472.3 L685.2 442.5 L688.2 444.7 L691.0 428.9 L693.6 457.1 L696.5 444.6 L699.0 462.8 L703.3 443.1 L707.5 448.2 L711.1 443.3 L715.0 459.8 L718.6 436.3 L721.9 443.0 L725.5 426.0 L727.0 440.3 L729.4 425.6 L731.8 435.0 L734.7 418.3 L737.0 429.6 L741.5 406.3 L744.1 431.8 L746.2 415.9 L748.5 439.9 L751.0 420.4 L753.3 431.6 L755.5 413.7 L758.0 420.6 L760.3 402.7 L762.1 411.6 L764.6 392.6 L766.6 404.4 L769.0 385.1 L770.6 416.7 L772.6 399.9 L774.5 420.2 L776.6 391.4 L778.3 416.6 L780.0 385.9 L784.0 415.3 L785.8 375.6 L788.1 398.4 L790.1 361.2 L792.2 378.3 L793.8 332.9 L795.9 351.3 L797.8 324.6 L800.0 336.2 L802.0 316.4 L805.0 349.5 L807.2 330.6 L808.9 343.7 L810.8 316.4 L813.0 341.2 L815.1 280.8 L817.9 310.1 L820.0 267.0 L822.0 305.4 L824.0 280.0 L825.7 322.1 L827.5 287.4 L831.0 330.8 L835.0 266.7 L837.8 311.2 L840.5 278.8 L842.9 326.4 L845.0 287.8 L847.4 357.5 L849.6 333.1 L852.0 376.2 L855.0 350.1 L856.8 366.1 L858.6 345.9 L860.0 374.0 L863.0 331.4 L865.7 339.6 L868.4 306.1 L871.0 326.5 L873.5 270.1 L876.4 297.2 L879.0 266.6 L880.5 287.8 L882.7 269.6 L884.7 280.9 L887.0 261.2 L888.9 268.3 L891.2 246.4 L893.4 237.9 L895.5 223.2 L897.4 235.8 L899.4 232.4 L901.4 224.2 L903.7 192.1 L905.6 185.2 L907.5 169.4 L910.0 193.0 L911.9 164.6 L913.6 168.7 L915.4 157.9 L916.9 157.4 L919.0 140.6 L921.2 190.2 L923.5 210.3 L925.9 220.1 L928.3 231.3 L930.7 245.8 L932.7 258.5 L935.0 283.3 L938.0 255.1 L940.3 287.6 L942.1 291.0 L944.2 294.9 L946.0 276.7 L950.0 316.2 L952.6 272.9 L955.5 282.1 L958.0 245.9 L960.4 246.1 L962.8 225.6 L965.8 197.7 L967.9 163.9 L970.3 139.0 L973.0 106.3 L975.2 160.9 L977.5 183.4 L979.7 203.6 L981.4 221.4 L983.7 253.8 L985.6 270.4 L988.0 289.4 L990.5 259.3 L992.6 270.3 L994.1 278.1 L996.3 296.7 L997.8 301.4 L1000.0 313.7 L1002.4 304.9 L1005.0 328.0 L1007.8 311.1 L1010.1 332.8 L1013.0 327.8 L1015.8 350.5 L1018.8 362.1 L1022.0 414.9 L1024.9 402.6 L1028.0 446.9 L1031.0 438.5 L1033.8 475.3 L1036.8 466.5 L1038.8 483.9 L1040.1 476.9 L1041.6 473.0 L1042.7 463.3 L1044.2 454.0 L1045.7 437.2 L1047.1 435.7 L1048.5 424.5 L1049.9 429.1 L1051.2 422.8 L1052.5 427.4 L1053.7 426.5 L1055.1 433.1 L1056.2 433.7 L1057.6 442.6 L1058.8 439.2 L1060.0 447.0 L1061.2 444.0 L1062.6 445.6 L1063.8 437.3 L1065.0 436.3 L1066.3 426.1 L1067.6 424.9 L1068.8 416.4 L1069.9 416.9 L1071.4 414.2 L1072.7 428.3 L1073.8 426.8 L1074.8 431.3 L1076.1 429.1 L1077.4 433.0 L1078.6 430.8 L1080.0 442.4 L1081.4 443.6 L1082.5 442.1 L1083.5 431.4 L1084.5 436.1 L1085.8 437.2 L1087.0 447.1 L1088.2 446.0 L1089.4 453.8 L1090.4 454.2 L1091.5 462.2 L1092.5 463.8 L1093.9 467.9 L1095.2 459.3 L1096.6 457.1 L1097.6 447.7 L1099.1 443.5 L1100.5 432.3 L1101.8 428.2 L1102.9 413.7 L1104.1 413.6 L1105.4 401.5 L1106.9 405.5 L1107.9 401.9 L1109.2 413.2 L1110.3 411.7 L1111.6 422.1 L1112.6 418.8 L1113.7 428.6 L1115.1 423.6 L1116.4 429.6 L1117.6 423.9 L1118.9 429.5 L1120.1 422.8 L1121.6 429.0 L1123.0 421.9 L1124.4 425.1 L1125.9 416.3 L1127.3 421.3 L1128.6 414.2 L1129.6 422.9 L1131.0 428.0 L1132.2 439.4 L1133.4 441.6 L1134.5 443.0 L1135.8 432.9 L1137.3 431.7 L1138.4 418.8 L1139.7 419.3 L1140.7 409.3 L1142.2 410.2 L1143.5 406.8 L1145.7 377.6 L1148.0 386.6 L1150.8 354.3 L1152.8 368.5 L1155.3 348.3 L1157.9 360.7 L1160.0 342.7 L1162.9 386.2 L1165.4 361.3 L1167.6 411.3 L1170.5 404.7 L1173.0 422.3 L1175.9 401.5 L1179.3 404.6 L1182.5 379.5 L1184.1 397.9 L1186.1 382.5 L1187.9 403.0 L1190.0 381.6 L1195.0 437.7 L1198.7 426.2 L1202.0 429.0" stroke="#ff00ff"/>
<path d="M115.0 373.2 L116.2 359.5 L117.5 380.6 L120.2 350.0 L123.0 366.9 L126.0 333.1 L129.0 363.8 L130.5 340.1 L132.9 359.6 L134.5 340.8 L136.4 350.0 L138.0 333.6 L139.7 352.4 L141.5 344.5 L143.6 363.8 L145.8 346.5 L147.5 376.3 L149.9 361.2 L152.5 375.7 L155.1 347.7 L158.3 357.6 L161.0 328.6 L163.0 353.9 L164.6 337.4 L166.7 370.0 L168.8 352.1 L170.5 374.5 L172.9 364.0 L175.5 381.1 L177.5 373.1 L180.0 385.7 L181.7 376.7 L183.7 382.7 L185.7 378.5 L188.2 390.0 L190.0 375.5 L192.2 396.5 L194.1 388.2 L196.0 400.5 L198.3 391.1 L201.0 397.5 L203.1 387.4 L205.0 392.7 L208.2 383.5 L212.0 397.1 L214.0 382.8 L216.4 394.9 L218.3 380.3 L220.5 383.2 L222.9 369.4 L225.1 378.6 L227.3 345.9 L229.5 375.1 L231.2 332.3 L233.4 357.6 L235.0 325.3 L236.7 344.2 L238.3 333.8 L240.0 350.5 L243.0 331.5 L244.5 353.8 L246.6 336.9 L248.5 365.6 L250.1 352.9 L252.0 375.7 L253.8 358.7 L255.5 373.4 L257.0 357.2 L259.3 369.7 L261.1 352.0 L263.5 372.2 L265.9 345.7 L268.4 363.9 L271.0 338.4 L273.0 359.6 L274.7 347.6 L276.9 364.0 L278.6 358.4 L280.5 369.9 L282.5 359.2 L284.7 366.5 L287.2 347.6 L289.0 360.2 L290.7 333.1 L292.7 353.0 L294.4 310.5 L296.1 338.8 L298.0 307.7 L300.2 344.6 L302.5 315.6 L304.5 349.7 L306.0 324.0 L307.5 348.2 L309.0 335.4 L310.9 357.5 L312.5 342.7 L314.0 360.2 L316.4 330.8 L319.0 348.3 L321.4 322.6 L323.5 334.0 L325.0 312.8 L326.6 331.7 L328.4 306.0 L330.0 328.7 L332.0 299.4 L334.1 318.7 L336.0 289.6 L338.2 303.6 L340.1 288.2 L342.5 305.9 L344.6 277.6 L346.1 301.2 L348.0 276.5 L349.9 308.4 L351.8 288.0 L353.5 326.4 L356.5 305.0 L358.3 332.8 L360.2 308.5 L362.8 342.3 L364.2 318.1 L366.5 355.1 L370.0 338.7 L373.5 361.7 L375.8 339.1 L377.7 358.0 L379.7 338.9 L382.0 355.4 L384.0 327.2 L386.5 366.6 L388.1 330.9 L389.4 357.3 L391.0 340.3 L392.6 359.8 L394.4 340.8 L396.5 362.4 L399.1 341.8 L401.7 363.4 L403.8 344.3 L406.5 374.1 L409.4 350.7 L412.5 368.6 L414.2 335.5 L416.5 353.0 L418.4 318.8 L420.1 337.9 L421.9 309.8 L423.8 329.9 L426.0 300.6 L430.0 328.7 L432.1 282.8 L434.1 314.7 L436.2 278.0 L438.2 294.1 L440.0 270.3 L443.5 303.9 L445.5 282.2 L448.0 296.1 L450.0 281.2 L451.5 301.9 L453.4 283.3 L455.0 309.0 L456.8 292.2 L458.5 335.7 L461.1 327.0 L463.1 360.4 L465.6 340.1 L468.0 372.2 L470.8 336.7 L473.6 354.7 L476.5 329.5 L478.8 345.4 L481.1 336.8 L483.5 352.4 L485.5 321.3 L488.0 346.5 L490.0 304.8 L492.0 338.3 L495.5 304.4 L498.5 333.1 L500.1 312.3 L501.5 326.4 L503.0 310.8 L505.4 328.1 L507.9 317.1 L510.4 332.5 L513.2 323.6 L515.2 346.3 L518.0 327.3 L522.0 355.4 L524.3 320.4 L526.7 343.3 L529.0 313.9 L531.5 340.5 L533.5 325.7 L536.2 359.4 L538.2 344.5 L540.8 371.4 L543.0 371.3 L545.0 380.6 L548.0 373.2 L551.0 385.3 L553.7 382.6 L556.4 390.2 L559.6 388.5 L562.0 403.7 L565.0 397.0 L570.0 411.8 L572.0 398.9 L576.0 411.9 L579.4 401.1 L582.3 405.6 L585.3 387.0 L588.8 397.4 L592.0 372.8 L594.9 403.4 L598.4 403.0 L601.5 413.3 L603.8 405.2 L606.2 411.8 L609.0 398.8 L613.0 418.0 L617.6 412.1 L622.5 418.3 L627.3 412.0 L632.0 416.3 L636.5 408.4 L641.0 414.0 L644.0 411.5 L647.5 418.3 L652.2 411.7 L656.5 418.4 L660.1 410.9 L663.5 415.4 L667.6 414.0 L671.0 419.7 L673.5 416.9 L676.5 419.7 L679.6 414.8 L682.5 418.0 L685.2 404.2 L688.2 405.5 L691.0 395.7 L693.6 412.1 L696.5 405.4 L699.0 414.7 L703.3 404.6 L707.5 407.5 L711.1 404.7 L715.0 413.3 L718.6 400.5 L721.9 404.5 L725.5 393.9 L727.0 402.9 L729.4 393.6 L731.8 399.7 L734.7 388.6 L737.0 396.2 L741.5 380.0 L744.1 397.6 L746.2 386.9 L748.5 402.7 L751.0 390.0 L753.3 397.5 L755.5 385.3 L758.0 390.2 L760.3 377.3 L762.1 383.8 L764.6 369.7 L766.6 378.6 L769.0 363.9 L770.6 387.5 L772.6 375.2 L774.5 389.9 L776.6 368.8 L778.3 387.4 L780.0 364.5 L784.0 386.5 L785.8 356.4 L788.1 374.2 L790.1 344.6 L792.2 358.5 L793.8 320.7 L795.9 336.4 L797.8 313.4 L800.0 323.5 L802.0 306.2 L805.0 334.8 L807.2 318.7 L808.9 329.9 L810.8 306.3 L813.0 327.8 L815.1 274.3 L817.9 300.7 L820.0 261.6 L822.0 296.5 L824.0 273.6 L825.7 311.3 L827.5 280.3 L831.0 318.9 L835.0 261.3 L837.8 301.7 L840.5 272.4 L842.9 315.1 L845.0 280.6 L847.4 341.5 L849.6 320.9 L852.0 356.9 L855.0 335.3 L856.8 348.7 L858.6 331.8 L860.0 355.1 L863.0 319.4 L865.7 326.4 L868.4 297.1 L871.0 315.2 L873.5 264.5 L876.4 289.1 L879.0 261.2 L880.5 280.6 L882.7 264.0 L884.7 274.3 L887.0 256.2 L888.9 262.8 L891.2 242.4 L893.4 234.5 L895.5 220.5 L897.4 232.5 L899.4 229.3 L901.4 221.5 L903.7 190.7 L905.6 184.0 L907.5 168.7 L910.0 191.6 L911.9 163.9 L913.6 168.0 L915.4 157.4 L916.9 156.9 L919.0 140.4 L921.2 188.9 L923.5 208.2 L925.9 217.6 L928.3 228.2 L930.7 241.8 L932.7 253.7 L935.0 276.6 L938.0 250.6 L940.3 280.4 L942.1 283.5 L944.2 287.1 L946.0 270.6 L950.0 306.1 L952.6 267.0 L955.5 275.4 L958.0 242.0 L960.4 242.2 L962.8 222.8 L965.8 196.1 L967.9 163.3 L970.3 138.8 L973.0 106.2 L975.2 160.4 L977.5 182.2 L979.7 201.8 L981.4 218.8 L983.7 249.3 L985.6 264.7 L988.0 282.1 L990.5 254.5 L992.6 264.6 L994.1 271.8 L996.3 288.7 L997.8 292.9 L1000.0 303.9 L1002.4 296.1 L1005.0 316.4 L1007.8 301.6 L1010.1 320.6 L1013.0 316.2 L1015.8 335.7 L1018.8 345.3 L1022.0 386.2 L1024.9 377.3 L1028.0 406.7 L1031.0 401.8 L1033.8 418.8 L1036.8 416.1 L1038.8 419.7 L1040.1 419.1 L1041.6 418.3 L1042.7 414.9 L1044.2 410.6 L1045.7 401.0 L1047.1 400.1 L1048.5 392.9 L1049.9 395.9 L1051.2 391.7 L1052.5 394.8 L1053.7 394.1 L1055.1 398.5 L1056.2 398.8 L1057.6 404.3 L1058.8 402.3 L1060.0 406.8 L1061.2 405.1 L1062.6 406.0 L1063.8 401.1 L1065.0 400.5 L1066.3 393.9 L1067.6 393.1 L1068.8 387.3 L1069.9 387.6 L1071.4 385.7 L1072.7 395.4 L1073.8 394.4 L1074.8 397.3 L1076.1 395.9 L1077.4 398.4 L1078.6 397.0 L1080.0 404.2 L1081.4 404.9 L1082.5 404.0 L1083.5 397.4 L1084.5 400.4 L1085.8 401.0 L1087.0 406.9 L1088.2 406.2 L1089.4 410.5 L1090.4 410.6 L1091.5 414.4 L1092.5 415.1 L1093.9 416.6 L1095.2 413.1 L1096.6 412.1 L1097.6 407.2 L1099.1 404.8 L1100.5 397.9 L1101.8 395.3 L1102.9 385.3 L1104.1 385.3 L1105.4 376.5 L1106.9 379.4 L1107.9 376.8 L1109.2 385.0 L1110.3 383.9 L1111.6 391.2 L1112.6 389.0 L1113.7 395.6 L1115.1 392.2 L1116.4 396.2 L1117.6 392.4 L1118.9 396.2 L1120.1 391.7 L1121.6 395.8 L1123.0 391.1 L1124.4 393.2 L1125.9 387.2 L1127.3 390.7 L1128.6 385.7 L1129.6 391.8 L1131.0 395.2 L1132.2 402.4 L1133.4 403.7 L1134.5 404.6 L1135.8 398.3 L1137.3 397.6 L1138.4 389.0 L1139.7 389.3 L1140.7 382.2 L1142.2 382.9 L1143.5 380.4 L1145.7 358.0 L1148.0 365.1 L1150.8 338.9 L1152.8 350.6 L1155.3 333.9 L1157.9 344.2 L1160.0 329.1 L1162.9 364.8 L1165.4 344.7 L1167.6 383.6 L1170.5 378.8 L1173.0 391.4 L1175.9 376.5 L1179.3 378.8 L1182.5 359.5 L1184.1 373.8 L1186.1 361.9 L1187.9 377.6 L1190.0 361.2 L1195.0 401.3 L1198.7 394.0 L1202.0 395.8" stroke="#808000"/>
</g></svg>
<div class="k" style="left:113px;top:2px;width:3px;height:884px"></div>
<div class="k" style="left:96px;top:883px;width:1104px;height:3px"></div>
<div class="k" style="left:116px;top:103px;width:1084px;height:1px"></div>
<div class="k" style="left:96px;top:100px;width:18px;height:3px"></div><div class="k" style="left:96px;top:296px;width:18px;height:3px"></div><div class="k" style="left:96px;top:492px;width:18px;height:3px"></div><div class="k" style="left:96px;top:687px;width:18px;height:3px"></div><div class="k" style="left:105px;top:2px;width:9px;height:3px"></div><div class="k" style="left:105px;top:198px;width:9px;height:3px"></div><div class="k" style="left:105px;top:394px;width:9px;height:3px"></div><div class="k" style="left:105px;top:589px;width:9px;height:3px"></div><div class="k" style="left:105px;top:785px;width:9px;height:3px"></div><div class="k" style="left:173.0px;top:885px;width:3px;height:9px"></div><div class="k" style="left:293.0px;top:885px;width:3px;height:17px"></div><div class="k" style="left:413.0px;top:885px;width:3px;height:9px"></div><div class="k" style="left:534.0px;top:885px;width:3px;height:17px"></div><div class="k" style="left:655.0px;top:885px;width:3px;height:9px"></div><div class="k" style="left:775.0px;top:885px;width:3px;height:17px"></div><div class="k" style="left:895.0px;top:885px;width:3px;height:9px"></div><div class="k" style="left:1016.0px;top:885px;width:3px;height:17px"></div><div class="k" style="left:1136.0px;top:885px;width:3px;height:9px"></div>
<div style="position:absolute;left:224px;top:587px;width:329px;height:249px;border:1px solid #000;background:#fff"></div>
<div style="position:absolute;left:236px;top:612px;width:77px;height:4px;background:#000000"></div><div class="lt" style="top:594.5px">k0 = 0 (original)</div><div style="position:absolute;left:236px;top:653px;width:77px;height:4px;background:#ff0000"></div><div class="lt" style="top:635.5px">k0 = 0.2</div><div style="position:absolute;left:236px;top:694px;width:77px;height:4px;background:#0000ff"></div><div class="lt" style="top:676.5px">k0 = 0.4</div><div style="position:absolute;left:236px;top:735px;width:77px;height:4px;background:#008080"></div><div class="lt" style="top:717.5px">k0 = 0.6</div><div style="position:absolute;left:236px;top:776px;width:77px;height:4px;background:#ff00ff"></div><div class="lt" style="top:758.5px">k0 = 0.8</div><div style="position:absolute;left:236px;top:817px;width:77px;height:4px;background:#808000"></div><div class="lt" style="top:799.5px">k0 = 1.0</div>
<div class="E">E</div>
<div class="T">Time</div>
<div class="P">Potential</div>
</body></html>
